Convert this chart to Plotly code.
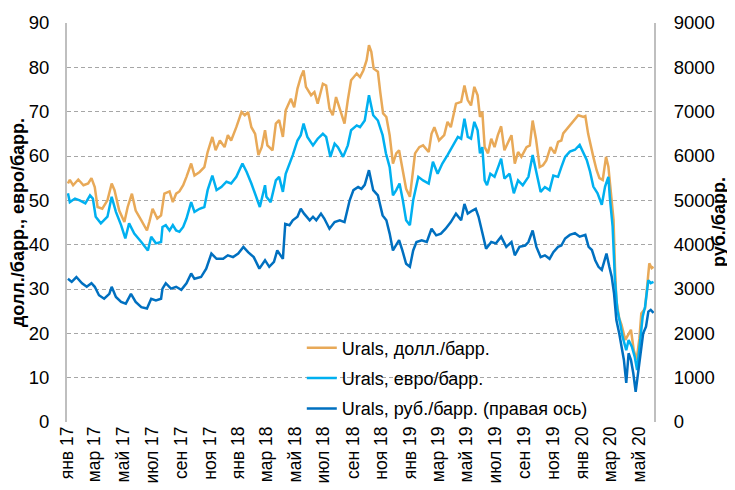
import plotly.graph_objects as go

# Urals, долл./барр.
USD_DATES = [
    "2017-01-03", "2017-01-07", "2017-01-14", "2017-01-25", "2017-02-05", "2017-02-15", "2017-02-22",
    "2017-03-01", "2017-03-07", "2017-03-17", "2017-03-28", "2017-04-06", "2017-04-12", "2017-04-22",
    "2017-05-03", "2017-05-10", "2017-05-19", "2017-05-27", "2017-06-08", "2017-06-20", "2017-06-25",
    "2017-07-02", "2017-07-12", "2017-07-20", "2017-07-27", "2017-08-07", "2017-08-14", "2017-08-21",
    "2017-08-28", "2017-09-05", "2017-09-12", "2017-09-22", "2017-09-29", "2017-10-10", "2017-10-20",
    "2017-10-27", "2017-11-06", "2017-11-13", "2017-11-22", "2017-12-02", "2017-12-09", "2017-12-16",
    "2017-12-27", "2018-01-07", "2018-01-14", "2018-01-21", "2018-01-28", "2018-02-05", "2018-02-12",
    "2018-02-19", "2018-02-26", "2018-03-03", "2018-03-14", "2018-03-21", "2018-03-28", "2018-04-05",
    "2018-04-11", "2018-04-22", "2018-04-29", "2018-05-06", "2018-05-13", "2018-05-19", "2018-05-24",
    "2018-06-04", "2018-06-11", "2018-06-18", "2018-06-29", "2018-07-06", "2018-07-13", "2018-07-20",
    "2018-07-27", "2018-08-04", "2018-08-14", "2018-08-21", "2018-08-28", "2018-09-09", "2018-09-16",
    "2018-09-23", "2018-09-30", "2018-10-05", "2018-10-10", "2018-10-15", "2018-10-24", "2018-10-29",
    "2018-11-04", "2018-11-11", "2018-11-18", "2018-11-25", "2018-12-02", "2018-12-08", "2018-12-15",
    "2018-12-23", "2018-12-31", "2019-01-06", "2019-01-11", "2019-01-20", "2019-01-28", "2019-02-09",
    "2019-02-15", "2019-02-21", "2019-03-03", "2019-03-14", "2019-03-21", "2019-03-28", "2019-04-08",
    "2019-04-19", "2019-04-26", "2019-05-03", "2019-05-10", "2019-05-17", "2019-05-24", "2019-05-29",
    "2019-06-03", "2019-06-08", "2019-06-15", "2019-06-22", "2019-06-29", "2019-07-06", "2019-07-13",
    "2019-07-20", "2019-07-27", "2019-08-04", "2019-08-11", "2019-08-18", "2019-08-25", "2019-09-05",
    "2019-09-12", "2019-09-18", "2019-09-25", "2019-10-03", "2019-10-10", "2019-10-17", "2019-10-26",
    "2019-11-04", "2019-11-11", "2019-11-18", "2019-11-22", "2019-12-03", "2019-12-13", "2019-12-24",
    "2020-01-04", "2020-01-08", "2020-01-14", "2020-01-18", "2020-01-25", "2020-02-01", "2020-02-07",
    "2020-02-14", "2020-02-21", "2020-02-26", "2020-03-02", "2020-03-08", "2020-03-11", "2020-03-14",
    "2020-03-20", "2020-03-25", "2020-04-02", "2020-04-09", "2020-04-14", "2020-04-20", "2020-04-26",
    "2020-05-02", "2020-05-06", "2020-05-14", "2020-05-19", "2020-05-23", "2020-05-28", "2020-06-01",
]
USD = [
    53.8, 54.6, 53.4, 54.7, 53.4, 53.8, 55.0,
    53.0, 48.5, 48.1, 50.0, 53.8, 52.3, 47.7,
    45.1, 48.5, 51.5, 47.7, 45.5, 43.2, 45.1,
    48.1, 45.9, 46.6, 51.5, 52.0, 49.6, 51.5,
    52.0, 53.4, 55.3, 58.3, 55.6, 56.4, 57.5,
    60.9, 64.3, 61.3, 63.5, 62.0, 64.7, 63.5,
    66.5, 69.9, 69.2, 69.9, 66.5, 65.0, 60.2,
    62.0, 65.8, 62.4, 61.3, 67.3, 68.1, 64.3,
    70.3, 72.9, 71.0, 75.2, 77.8, 79.3, 75.6,
    73.7, 74.4, 71.8, 76.3, 75.9, 70.7, 69.2,
    73.3, 70.7, 67.3, 72.6, 77.1, 78.6, 77.8,
    79.3, 81.6, 85.0, 83.5, 79.7, 79.0, 74.4,
    69.6, 68.8, 64.7, 58.3, 60.6, 61.3, 57.5,
    52.6, 50.8, 56.0, 60.6, 62.0, 62.4, 60.9,
    65.0, 66.5, 63.5, 64.7, 67.7, 66.5, 71.8,
    72.2, 75.9, 72.6, 71.4, 75.6, 73.7, 68.8,
    70.0, 62.0, 60.6, 63.9, 62.0, 64.7, 66.7,
    61.3, 62.8, 64.7, 58.3, 60.9, 59.8, 62.0,
    62.4, 68.0, 63.9, 57.5, 57.9, 59.0, 62.0,
    60.6, 63.2, 63.5, 65.1, 66.5, 68.0, 69.2,
    68.8, 69.0, 65.0, 62.9, 59.8, 56.8, 55.0,
    54.6, 59.8, 57.6, 52.3, 45.6, 35.0, 27.5,
    23.4, 21.9, 18.5, 20.0, 20.8, 16.2, 14.0,
    18.9, 24.5, 25.6, 30.9, 35.8, 34.7, 35.0,
]

# Urals, евро/барр.
EUR_DATES = [
    "2017-01-03", "2017-01-07", "2017-01-18", "2017-01-28", "2017-02-09", "2017-02-19", "2017-02-25",
    "2017-03-03", "2017-03-14", "2017-03-28", "2017-04-06", "2017-04-15", "2017-04-26", "2017-05-05",
    "2017-05-13", "2017-05-24", "2017-06-08", "2017-06-22", "2017-06-29", "2017-07-09", "2017-07-20",
    "2017-07-23", "2017-07-30", "2017-08-07", "2017-08-14", "2017-08-21", "2017-08-28", "2017-09-05",
    "2017-09-12", "2017-09-22", "2017-09-29", "2017-10-10", "2017-10-20", "2017-10-27", "2017-11-06",
    "2017-11-15", "2017-11-25", "2017-12-06", "2017-12-16", "2017-12-27", "2018-01-09", "2018-01-18",
    "2018-01-28", "2018-02-09", "2018-02-15", "2018-02-26", "2018-03-01", "2018-03-10", "2018-03-21",
    "2018-03-28", "2018-04-05", "2018-04-11", "2018-04-26", "2018-05-06", "2018-05-13", "2018-05-19",
    "2018-05-27", "2018-06-08", "2018-06-18", "2018-06-29", "2018-07-06", "2018-07-15", "2018-07-24",
    "2018-07-31", "2018-08-11", "2018-08-21", "2018-08-28", "2018-09-09", "2018-09-16", "2018-09-26",
    "2018-10-05", "2018-10-14", "2018-10-24", "2018-11-03", "2018-11-10", "2018-11-18", "2018-11-25",
    "2018-12-02", "2018-12-09", "2018-12-16", "2018-12-23", "2018-12-31", "2019-01-07", "2019-01-18",
    "2019-01-28", "2019-02-09", "2019-02-18", "2019-02-28", "2019-03-10", "2019-03-21", "2019-04-01",
    "2019-04-12", "2019-04-19", "2019-04-26", "2019-05-03", "2019-05-10", "2019-05-17", "2019-05-24",
    "2019-05-29", "2019-06-03", "2019-06-08", "2019-06-13", "2019-06-20", "2019-06-29", "2019-07-08",
    "2019-07-13", "2019-07-20", "2019-07-31", "2019-08-09", "2019-08-18", "2019-08-28", "2019-09-09",
    "2019-09-18", "2019-09-26", "2019-10-05", "2019-10-14", "2019-10-24", "2019-11-01", "2019-11-11",
    "2019-11-18", "2019-11-26", "2019-12-06", "2019-12-17", "2019-12-27", "2020-01-04", "2020-01-11",
    "2020-01-18", "2020-01-25", "2020-02-03", "2020-02-12", "2020-02-19", "2020-02-26", "2020-02-29",
    "2020-03-06", "2020-03-11", "2020-03-16", "2020-03-22", "2020-03-27", "2020-04-04", "2020-04-09",
    "2020-04-16", "2020-04-22", "2020-04-27", "2020-05-03", "2020-05-09", "2020-05-14", "2020-05-21",
    "2020-05-26", "2020-06-01",
]
EUR = [
    51.6, 49.6, 50.4, 50.0, 49.3, 51.1, 50.4,
    46.3, 44.8, 46.3, 50.8, 47.4, 44.4, 41.4,
    44.8, 42.5, 40.6, 38.7, 41.8, 40.3, 40.6,
    44.0, 44.4, 43.2, 44.4, 43.2, 42.9, 44.0,
    45.9, 49.6, 47.4, 48.1, 48.5, 52.3, 55.6,
    52.3, 53.0, 54.2, 53.8, 55.3, 58.3, 56.4,
    53.8, 50.0, 48.5, 53.4, 50.8, 49.6, 54.5,
    55.3, 51.9, 56.0, 60.2, 63.5, 64.7, 67.3,
    64.3, 62.4, 63.9, 65.0, 64.3, 59.8, 62.8,
    62.0, 59.8, 62.4, 65.8, 66.9, 66.5, 68.0,
    73.7, 69.2, 68.0, 64.7, 60.6, 57.5, 51.1,
    52.3, 53.8, 50.0, 45.5, 44.4, 50.0, 55.3,
    54.5, 53.8, 58.7, 56.0, 58.3, 60.2, 62.4,
    64.3, 63.9, 68.4, 64.3, 63.9, 67.7, 65.8,
    60.6, 62.0, 54.5, 53.4, 56.0, 55.3, 57.9,
    59.4, 54.9, 56.0, 51.6, 54.5, 53.4, 55.3,
    60.2, 56.0, 51.9, 53.0, 52.3, 55.6, 55.3,
    57.5, 59.8, 61.0, 61.4, 62.5, 60.6, 59.1,
    56.5, 53.1, 51.6, 49.0, 53.1, 55.3, 50.8,
    44.1, 32.0, 25.3, 22.3, 19.3, 16.2, 18.5,
    17.0, 14.7, 11.7, 18.5, 23.8, 26.0, 32.0,
    31.3, 31.6,
]

# Urals, руб./барр. (правая ось)
RUB_DATES = [
    "2017-01-03", "2017-01-11", "2017-01-21", "2017-02-02", "2017-02-12", "2017-02-22", "2017-03-01",
    "2017-03-10", "2017-03-21", "2017-04-01", "2017-04-06", "2017-04-15", "2017-04-26", "2017-05-06",
    "2017-05-17", "2017-05-27", "2017-06-08", "2017-06-20", "2017-06-29", "2017-07-09", "2017-07-20",
    "2017-07-23", "2017-07-30", "2017-08-10", "2017-08-21", "2017-09-01", "2017-09-12", "2017-09-22",
    "2017-09-29", "2017-10-13", "2017-10-24", "2017-11-04", "2017-11-15", "2017-11-29", "2017-12-09",
    "2017-12-20", "2017-12-31", "2018-01-11", "2018-01-21", "2018-02-02", "2018-02-14", "2018-02-26",
    "2018-03-07", "2018-03-17", "2018-03-24", "2018-04-05", "2018-04-10", "2018-04-19", "2018-04-26",
    "2018-05-06", "2018-05-13", "2018-05-20", "2018-06-01", "2018-06-08", "2018-06-15", "2018-06-25",
    "2018-07-02", "2018-07-13", "2018-07-24", "2018-08-04", "2018-08-14", "2018-08-25", "2018-09-02",
    "2018-09-12", "2018-09-19", "2018-09-26", "2018-10-05", "2018-10-14", "2018-10-24", "2018-11-03",
    "2018-11-11", "2018-11-18", "2018-11-25", "2018-12-02", "2018-12-08", "2018-12-15", "2018-12-23",
    "2018-12-31", "2019-01-07", "2019-01-14", "2019-01-25", "2019-02-05", "2019-02-15", "2019-02-25",
    "2019-03-07", "2019-03-17", "2019-03-28", "2019-04-08", "2019-04-19", "2019-04-26", "2019-05-03",
    "2019-05-13", "2019-05-20", "2019-05-26", "2019-06-04", "2019-06-11", "2019-06-22", "2019-07-02",
    "2019-07-13", "2019-07-24", "2019-08-04", "2019-08-11", "2019-08-21", "2019-09-02", "2019-09-09",
    "2019-09-18", "2019-09-26", "2019-10-05", "2019-10-14", "2019-10-24", "2019-11-01", "2019-11-11",
    "2019-11-18", "2019-11-26", "2019-12-06", "2019-12-17", "2019-12-27", "2020-01-08", "2020-01-15",
    "2020-01-22", "2020-01-29", "2020-02-05", "2020-02-12", "2020-02-22", "2020-02-28", "2020-03-04",
    "2020-03-09", "2020-03-14", "2020-03-20", "2020-03-25", "2020-03-30", "2020-04-04", "2020-04-09",
    "2020-04-14", "2020-04-19", "2020-04-24", "2020-04-29", "2020-05-04", "2020-05-10", "2020-05-16",
    "2020-05-21", "2020-05-26", "2020-06-01",
]
RUB = [
    3230, 3160, 3270, 3130, 3050, 3130, 3050,
    2860, 2780, 2890, 3050, 2820, 2710, 2670,
    2890, 2710, 2590, 2560, 2780, 2740, 2780,
    3010, 3130, 3010, 3050, 2980, 3130, 3350,
    3230, 3270, 3460, 3800, 3680, 3680, 3760,
    3720, 3800, 3950, 3830, 3720, 3460, 3650,
    3500, 3610, 3870, 3680, 4470, 4440, 4550,
    4630, 4810, 4700, 4550, 4630, 4550, 4700,
    4590, 4360, 4510, 4550, 4510, 5000, 5230,
    5300, 5260, 5350, 5680, 5230, 5110, 4660,
    4550, 4250, 3870, 3980, 4100, 3870, 3570,
    3500, 3870, 4060, 4100, 4060, 4360, 4210,
    4250, 4360, 4510, 4700, 4550, 4920, 4700,
    4770, 4810, 4630, 4180, 3910, 4060, 4030,
    4180, 3950, 4060, 3760, 3950, 3980, 4060,
    4320, 3950, 3720, 3760, 3680, 3830, 3950,
    3980, 4140, 4220, 4260, 4180, 4220, 3950,
    3880, 3650, 3500, 3430, 3800, 3500, 3280,
    2900, 2300, 2000, 1700, 1400, 880, 1550,
    1400, 1100, 680, 1100, 1620, 2000, 2150,
    2490, 2530, 2460,
]

TICK_DATES = [
    "2017-01-01", "2017-03-01", "2017-05-01", "2017-07-01", "2017-09-01", "2017-11-01",
    "2018-01-01", "2018-03-01", "2018-05-01", "2018-07-01", "2018-09-01", "2018-11-01",
    "2019-01-01", "2019-03-01", "2019-05-01", "2019-07-01", "2019-09-01", "2019-11-01",
    "2020-01-01", "2020-03-01", "2020-05-01",
]
TICK_TEXT = [
    "янв 17", "мар 17", "май 17", "июл 17", "сен 17", "ноя 17",
    "янв 18", "мар 18", "май 18", "июл 18", "сен 18", "ноя 18",
    "янв 19", "мар 19", "май 19", "июл 19", "сен 19", "ноя 19",
    "янв 20", "мар 20", "май 20",
]

FONT = "Arial, Liberation Sans, sans-serif"
GRID = "#A6A6A6"

fig = go.Figure()
fig.add_trace(go.Scatter(
    x=USD_DATES, y=USD, mode="lines", name="Urals, долл./барр.",
    line=dict(color="#E8A958", width=2.5), legendgroup="a",
))
fig.add_trace(go.Scatter(
    x=EUR_DATES, y=EUR, mode="lines", name="Urals, евро/барр.",
    line=dict(color="#00B0F0", width=2.5), legendgroup="b",
))
fig.add_trace(go.Scatter(
    x=RUB_DATES, y=RUB, mode="lines", name="Urals, руб./барр. (правая ось)",
    line=dict(color="#0070C0", width=2.5), legendgroup="c", yaxis="y2",
))

# right axis title as a rotated annotation so it stays inside the page
fig.add_annotation(
    text="<b>руб./барр.</b>", textangle=-90,
    xref="paper", yref="paper", x=1.11, y=0.5,
    xanchor="center", yanchor="middle", showarrow=False,
    font=dict(size=18),
)

# page body adds an 8px margin, so the figure is 8px smaller than the window
fig.update_layout(
    width=727, height=482,
    margin=dict(l=59, r=81, t=15, b=68, autoexpand=False),
    paper_bgcolor="white", plot_bgcolor="white",
    font=dict(family=FONT, size=18, color="#000000"),
    showlegend=True,
    legend=dict(
        x=0.40, y=0.232, xanchor="left", yanchor="top",
        bgcolor="rgba(0,0,0,0)", borderwidth=0,
        font=dict(size=18), tracegroupgap=4,
    ),
    xaxis=dict(
        type="date", range=["2017-01-01", "2020-06-02"],
        tickvals=TICK_DATES, ticktext=TICK_TEXT, tickangle=-90,
        showgrid=False, zeroline=False, showline=False, ticks="",
        tickfont=dict(size=17.5), automargin=False,
    ),
    yaxis=dict(
        range=[0, 90], dtick=10, showgrid=True, gridcolor=GRID,
        griddash="4px,3px", gridwidth=1, zeroline=False,
        showline=True, linecolor="#BFBFBF", linewidth=2,
        ticks="", ticklabelstandoff=12, tickfont=dict(size=18.5),
        title=dict(text="<b>долл./барр., евро/барр.</b>", font=dict(size=18), standoff=2),
        automargin=False,
    ),
    yaxis2=dict(
        range=[0, 9000], dtick=1000, overlaying="y", side="right",
        showgrid=False, zeroline=False,
        showline=True, linecolor="#BFBFBF", linewidth=2,
        ticks="", ticklabelstandoff=14, tickfont=dict(size=18.5),
        automargin=False,
    ),
)

fig.write_html("out.html")
